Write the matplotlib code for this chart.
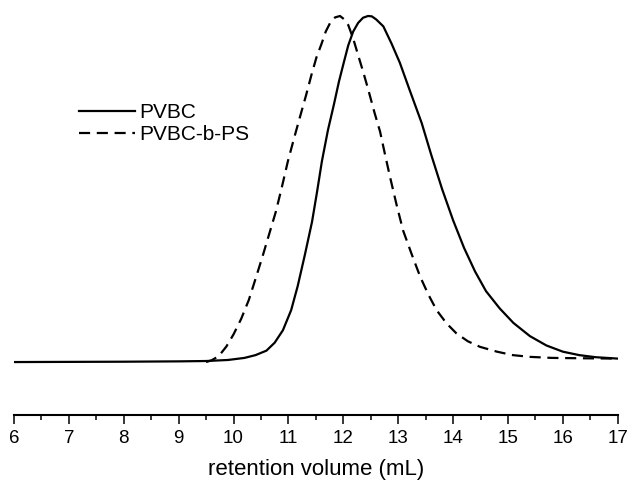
import matplotlib
matplotlib.use('Agg')
import matplotlib.pyplot as plt
from matplotlib.ticker import MultipleLocator

plt.rcParams['font.family'] = ['Liberation Sans', 'DejaVu Sans']

# PVBC trace (normalized detector signal vs retention volume)
pvbc_x = [6.0, 8.0, 9.0, 9.5, 9.9, 10.2, 10.4, 10.6, 10.75, 10.9, 11.05, 11.17,
          11.3, 11.43, 11.52, 11.61, 11.72, 11.83, 11.92, 12.0, 12.09, 12.18,
          12.27, 12.36, 12.45, 12.52, 12.6, 12.73, 12.88, 13.03, 13.2, 13.43,
          13.6, 13.8, 14.0, 14.2, 14.4, 14.6, 14.85, 15.1, 15.4, 15.7, 16.0,
          16.3, 16.6, 17.0]
pvbc_y = [0.0, 0.001, 0.002, 0.003, 0.006, 0.012, 0.02, 0.033, 0.056, 0.092, 0.15, 0.22,
          0.31, 0.405, 0.49, 0.58, 0.67, 0.745, 0.81, 0.86, 0.915, 0.955,
          0.98, 0.995, 1.0, 0.999, 0.99, 0.97, 0.92, 0.865, 0.79, 0.69,
          0.6, 0.5, 0.41, 0.33, 0.262, 0.205, 0.155, 0.113, 0.075, 0.048, 0.03,
          0.02, 0.014, 0.01]

# PVBC-b-PS trace
ps_x = [9.5, 9.6, 9.73, 9.87, 10.0, 10.14, 10.28, 10.4, 10.53, 10.65, 10.77, 10.88,
        10.99, 11.1, 11.21, 11.32, 11.42, 11.51, 11.6, 11.68, 11.76, 11.85, 11.94,
        12.02, 12.09, 12.18, 12.27, 12.36, 12.45, 12.57, 12.67, 12.76, 12.85,
        12.97, 13.09, 13.25, 13.4, 13.55, 13.7, 13.88, 14.06, 14.27, 14.49, 14.8,
        15.09, 15.4, 15.8, 16.3, 17.0]
ps_y = [0.0, 0.005, 0.017, 0.045, 0.08, 0.125, 0.18, 0.24, 0.306, 0.37, 0.434, 0.505,
        0.58, 0.645, 0.708, 0.77, 0.83, 0.88, 0.918, 0.955, 0.98, 0.996, 1.0,
        0.99, 0.974, 0.935, 0.887, 0.84, 0.79, 0.72, 0.666, 0.6, 0.536,
        0.455, 0.38, 0.31, 0.247, 0.195, 0.15, 0.112, 0.083, 0.06, 0.044, 0.03,
        0.02, 0.015, 0.012, 0.011, 0.01]

fig = plt.figure(figsize=(6.3, 4.82), dpi=100)
ax = fig.add_axes([0.0222, 0.139, 0.9583, 0.840])

ax.plot(pvbc_x, pvbc_y, color='black', lw=1.6, label='PVBC')
ax.plot(ps_x, ps_y, color='black', lw=1.6, linestyle=(0, (5, 3)), label='PVBC-b-PS')

ax.set_xlim(6, 17)
ax.set_ylim(-0.153, 1.017)
for s in ['top', 'right', 'left']:
    ax.spines[s].set_visible(False)
ax.spines['bottom'].set_linewidth(1.5)
ax.set_yticks([])
ax.xaxis.set_major_locator(MultipleLocator(1))
ax.xaxis.set_minor_locator(MultipleLocator(0.5))
ax.tick_params(axis='x', which='major', direction='out', length=6.5, width=1.1,
               labelsize=13.5, pad=4)
ax.tick_params(axis='x', which='minor', direction='out', length=3.6, width=1.1)
ax.set_xlabel('retention volume (mL)', fontsize=16, labelpad=9)

ax.legend(loc='upper left', bbox_to_anchor=(79 / 630, 1 - 103 / 482),
          bbox_transform=fig.transFigure, frameon=False, fontsize=15,
          handlelength=2.7, handletextpad=0.2, labelspacing=0.15,
          borderpad=0, borderaxespad=0)

fig.savefig('out.png', dpi=100)
